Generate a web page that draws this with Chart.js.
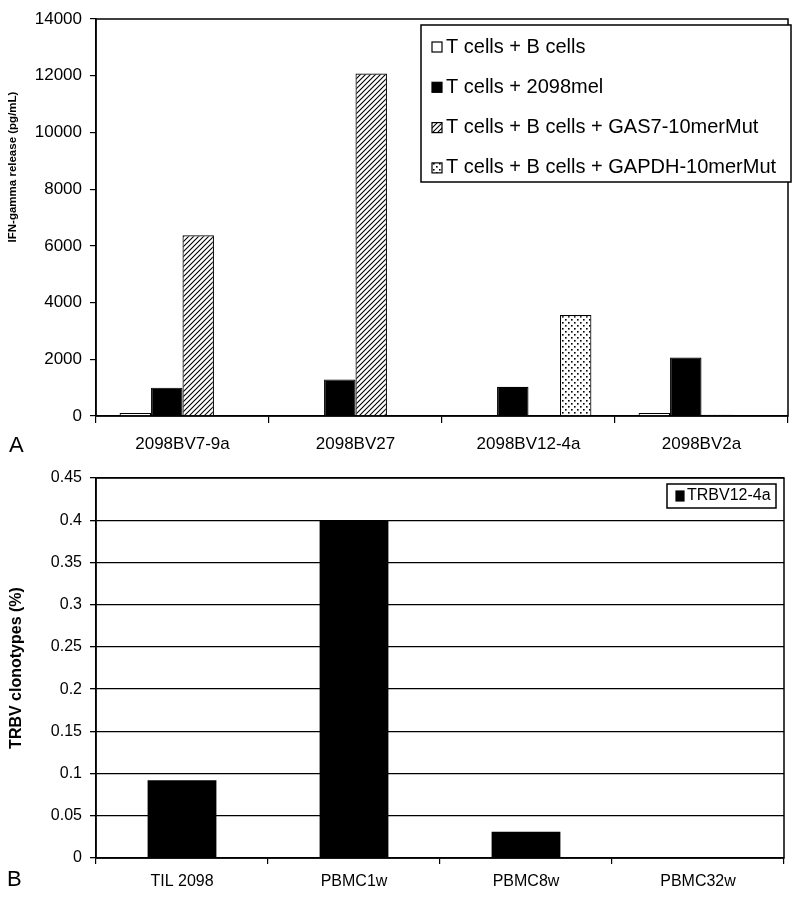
<!DOCTYPE html>
<html>
<head>
<meta charset="utf-8">
<script src="https://cdn.jsdelivr.net/npm/chart.js@4"></script>
<style>
body { margin: 0; background: #fff; }
#wrapA { position: absolute; left: 0; top: 0; width: 800px; height: 460px; }
#wrapB { position: absolute; left: 0; top: 460px; width: 800px; height: 438px; }
.panel { position: absolute; font-family: "Liberation Sans", Arial, sans-serif; font-size: 22px; color: #000; line-height: 1; }
</style>
</head>
<body>
<div id="wrapA"><canvas id="chartA"></canvas></div>
<div id="wrapB"><canvas id="chartB"></canvas></div>
<div class="panel" style="left:9px;top:434px">A</div>
<div class="panel" style="left:7px;top:868px">B</div>
<script>
// panel A: IFN-gamma release per clone
const clonesA = ["2098BV7-9a", "2098BV27", "2098BV12-4a", "2098BV2a"];
const tbCells = [110, 0, 0, 110];
const melCells = [1000, 1290, 1030, 2060];
const gas7Cells = [6370, 12080, 0, 40];
const gapdhCells = [0, 0, 3560, 0];

// panel B: TRBV12-4a clonotype frequency
const samplesB = ["TIL 2098", "PBMC1w", "PBMC8w", "PBMC32w"];
const trbvValues = [0.092, 0.4, 0.031, 0];

Chart.defaults.font.family = '"Liberation Sans", Arial, sans-serif';
Chart.defaults.color = "#000";

const ctxA = document.getElementById("chartA").getContext("2d");

function hatchPattern() {
    const c = document.createElement("canvas");
    c.width = c.height = 5;
    const x = c.getContext("2d");
    x.fillStyle = "#fff";
    x.fillRect(0, 0, 5, 5);
    x.strokeStyle = "#000";
    x.lineWidth = 1.1;
    x.beginPath();
    x.moveTo(0, 5); x.lineTo(5, 0);
    x.moveTo(-1, 1); x.lineTo(1, -1);
    x.moveTo(4, 6); x.lineTo(6, 4);
    x.stroke();
    return ctxA.createPattern(c, "repeat");
}

function dotPattern() {
    const c = document.createElement("canvas");
    c.width = c.height = 6;
    const x = c.getContext("2d");
    x.fillStyle = "#fff";
    x.fillRect(0, 0, 6, 6);
    x.fillStyle = "#000";
    x.fillRect(1, 1, 1.6, 1.6);
    x.fillRect(4, 4, 1.6, 1.6);
    return ctxA.createPattern(c, "repeat");
}

// box around the plot area
const framePlugin = {
    id: "frame",
    afterDraw(chart) {
        const a = chart.chartArea, ctx = chart.ctx;
        ctx.save();
        ctx.strokeStyle = "#000";
        ctx.lineWidth = 1.5;
        ctx.strokeRect(a.left, a.top, a.right - a.left, a.bottom - a.top);
        ctx.restore();
    }
};

// legend drawn as a boxed list inside the plot
const boxLegendPlugin = {
    id: "boxLegend",
    afterDraw(chart, args, o) {
        const ctx = chart.ctx;
        ctx.save();
        ctx.fillStyle = "#fff";
        ctx.fillRect(o.x, o.y, o.w, o.h);
        ctx.strokeStyle = "#000";
        ctx.lineWidth = 1.5;
        ctx.strokeRect(o.x, o.y, o.w, o.h);
        ctx.font = o.font;
        ctx.textBaseline = "middle";
        chart.data.datasets.forEach((ds, i) => {
            const cy = o.firstY + i * o.rowH;
            ctx.fillStyle = ds.backgroundColor;
            ctx.fillRect(o.swatchX, cy - o.swatchH / 2, o.swatchW, o.swatchH);
            ctx.strokeStyle = "#000";
            ctx.lineWidth = 1.2;
            ctx.strokeRect(o.swatchX, cy - o.swatchH / 2, o.swatchW, o.swatchH);
            ctx.fillStyle = "#000";
            ctx.fillText(ds.label, o.textX, cy);
        });
        ctx.restore();
    }
};

// y title for panel A sits above the middle of the axis
const sideTitlePlugin = {
    id: "sideTitle",
    afterDraw(chart, args, o) {
        if (!o.text) return;
        const ctx = chart.ctx;
        ctx.save();
        ctx.translate(o.x, o.y);
        ctx.rotate(-Math.PI / 2);
        ctx.font = o.font;
        ctx.fillStyle = "#000";
        ctx.textAlign = "center";
        ctx.textBaseline = "middle";
        ctx.fillText(o.text, 0, 0);
        ctx.restore();
    }
};

new Chart(ctxA, {
    type: "bar",
    data: {
        labels: clonesA,
        datasets: [
            { label: "T cells + B cells", data: tbCells, backgroundColor: "#fff" },
            { label: "T cells + 2098mel", data: melCells, backgroundColor: "#000" },
            { label: "T cells + B cells + GAS7-10merMut", data: gas7Cells, backgroundColor: hatchPattern() },
            { label: "T cells + B cells + GAPDH-10merMut", data: gapdhCells, backgroundColor: dotPattern() }
        ]
    },
    options: {
        responsive: true,
        maintainAspectRatio: false,
        animation: false,
        layout: { padding: { top: 19, right: 12, left: 0, bottom: 0 } },
        datasets: { bar: { borderColor: "#000", borderWidth: 1.2, categoryPercentage: 4 / 5.5, barPercentage: 1 } },
        scales: {
            x: {
                grid: { offset: true, drawOnChartArea: false, tickLength: 7, color: "#000", lineWidth: 1.2 },
                border: { color: "#000", width: 1.5 },
                ticks: { font: { size: 17 }, padding: 11, maxRotation: 0 },
                afterFit(s) { s.height = 44; }
            },
            y: {
                min: 0,
                max: 14000,
                ticks: { stepSize: 2000, font: { size: 17 }, padding: 8, callback: v => String(v) },
                grid: { drawOnChartArea: false, tickLength: 6, color: "#000", lineWidth: 1.2 },
                border: { color: "#000", width: 1.5 },
                afterFit(s) { s.width = 96; }
            }
        },
        plugins: {
            legend: { display: false },
            tooltip: { enabled: false },
            boxLegend: { x: 421, y: 25, w: 370, h: 157, firstY: 47, rowH: 40.3, swatchX: 432, swatchW: 10, swatchH: 10, textX: 446, font: '20px "Liberation Sans", Arial, sans-serif' },
            sideTitle: { text: "IFN-gamma release (pg/mL)", x: 13, y: 167, font: 'bold 11.5px "Liberation Sans", Arial, sans-serif' }
        }
    },
    plugins: [framePlugin, boxLegendPlugin, sideTitlePlugin]
});

new Chart(document.getElementById("chartB"), {
    type: "bar",
    data: {
        labels: samplesB,
        datasets: [
            { label: "TRBV12-4a", data: trbvValues, backgroundColor: "#000" }
        ]
    },
    options: {
        responsive: true,
        maintainAspectRatio: false,
        animation: false,
        layout: { padding: { top: 18, right: 16, left: 0, bottom: 0 } },
        datasets: { bar: { borderColor: "#000", borderWidth: 0, categoryPercentage: 0.4, barPercentage: 1 } },
        scales: {
            x: {
                grid: { offset: true, drawOnChartArea: false, tickLength: 6, color: "#000", lineWidth: 1.2 },
                border: { color: "#000", width: 1.5 },
                ticks: { font: { size: 16 }, padding: 8, maxRotation: 0 },
                afterFit(s) { s.height = 40; }
            },
            y: {
                min: 0,
                max: 0.45,
                ticks: {
                    stepSize: 0.05,
                    font: { size: 16 },
                    padding: 8,
                    callback: v => String(+v.toFixed(2))
                },
                grid: { tickLength: 6, color: "#000", lineWidth: 1.3 },
                border: { color: "#000", width: 1.5 },
                title: { display: true, text: "TRBV clonotypes (%)", font: { size: 16, weight: "bold" }, padding: { top: 7, bottom: 0 } },
                afterFit(s) { s.width = 96; }
            }
        },
        plugins: {
            legend: { display: false },
            tooltip: { enabled: false },
            boxLegend: { x: 667, y: 24, w: 109, h: 24, firstY: 36, rowH: 0, swatchX: 676, swatchW: 8, swatchH: 10, textX: 687, font: '16px "Liberation Sans", Arial, sans-serif' }
        }
    },
    plugins: [framePlugin, boxLegendPlugin]
});
</script>
</body>
</html>
